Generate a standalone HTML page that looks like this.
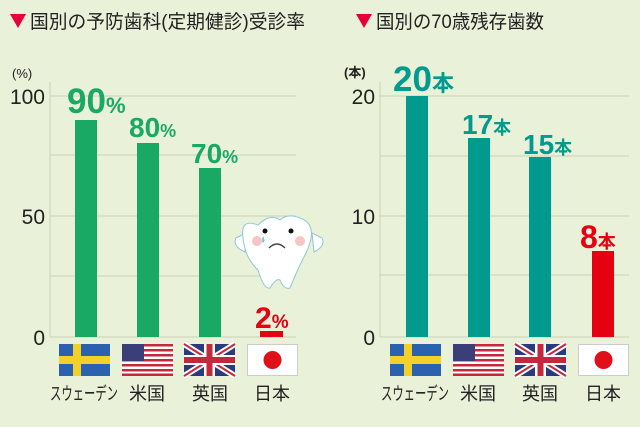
<!DOCTYPE html>
<html><head><meta charset="utf-8"><style>
html,body{margin:0;padding:0;background:#e9f1d9;}
svg{display:block}
text{font-family:"Liberation Sans","Noto Sans CJK JP",sans-serif;}
</style></head><body>
<svg width="640" height="427" viewBox="0 0 640 427" xmlns="http://www.w3.org/2000/svg">
<defs>
<g id="se"><rect width="51" height="32" fill="#2a62b0"/><rect x="14" width="8" height="32" fill="#f3d02a"/><rect y="12" width="51" height="8" fill="#f3d02a"/></g>
<g id="us"><rect width="51" height="32" fill="#fff"/>
<g fill="#c4283c"><rect y="0" width="51" height="2.5"/><rect y="5" width="51" height="2.5"/><rect y="10" width="51" height="2.5"/><rect y="15" width="51" height="2.5"/><rect y="20" width="51" height="2.5"/><rect y="25" width="51" height="2.5"/><rect y="29.5" width="51" height="2.5"/></g>
<rect width="22" height="17" fill="#3a3f7a"/></g>
<g id="uk"><rect width="51" height="32" fill="#2b3a7e"/>
<path d="M0 0L51 32M51 0L0 32" stroke="#fff" stroke-width="6"/><path d="M0 0L51 32M51 0L0 32" stroke="#c4283c" stroke-width="2"/>
<rect x="20" width="11" height="32" fill="#fff"/><rect y="11" width="51" height="10" fill="#fff"/>
<rect x="22.5" width="6" height="32" fill="#c4283c"/><rect y="13" width="51" height="6" fill="#c4283c"/></g>
<g id="jp"><rect x="0.5" y="0.5" width="50" height="31" fill="#fff" stroke="#ccc"/><circle cx="25.5" cy="16" r="9" fill="#e0101a"/></g>
</defs>
<path d="M10 28 L26 28 L18 42 Z" transform="translate(0,-14)" fill="#e5003c"/>
<text x="30" y="28" font-size="19" fill="#222" textLength="275" lengthAdjust="spacingAndGlyphs">国別の予防歯科(定期健診)受診率</text>
<path d="M356 14 L372 14 L364 28 Z" fill="#e5003c"/>
<text x="376" y="28" font-size="19" fill="#222" textLength="168" lengthAdjust="spacingAndGlyphs">国別の70歳残存歯数</text>
<text x="12" y="78" font-size="13" fill="#222">(%)</text>
<g stroke="#c9d2b4" stroke-width="1">
<line x1="50" y1="96" x2="296" y2="96"/><line x1="50" y1="155" x2="296" y2="155"/><line x1="50" y1="216" x2="296" y2="216"/><line x1="50" y1="276" x2="296" y2="276"/><line x1="50" y1="337" x2="296" y2="337"/>
<line x1="50" y1="82" x2="50" y2="337"/>
<line x1="380" y1="96" x2="629" y2="96"/><line x1="380" y1="156" x2="629" y2="156"/><line x1="380" y1="216" x2="629" y2="216"/><line x1="380" y1="275" x2="629" y2="275"/><line x1="380" y1="337" x2="629" y2="337"/>
<line x1="380" y1="82" x2="380" y2="337"/>
</g>
<g font-size="21" fill="#222" text-anchor="end">
<text x="45" y="104">100</text><text x="45" y="224">50</text><text x="45" y="345">0</text>
<text x="375" y="104">20</text><text x="375" y="224">10</text><text x="375" y="345">0</text>
</g>
<g fill="#1aa865">
<rect x="75" y="120" width="22" height="217"/><rect x="137" y="143" width="22" height="194"/><rect x="199" y="168" width="22" height="169"/>
</g>
<rect x="260" y="331" width="23" height="6" fill="#e50012"/>
<g font-weight="bold" fill="#1aa865">
<text x="67" y="113" font-size="35">90<tspan font-size="22">%</tspan></text>
<text x="129" y="137" font-size="28">80<tspan font-size="18">%</tspan></text>
<text x="191" y="163" font-size="28">70<tspan font-size="18">%</tspan></text>
</g>
<text x="255" y="328" font-size="30" font-weight="bold" fill="#e50012">2<tspan font-size="19">%</tspan></text>
<g stroke="#8fc7d8" stroke-width="1" fill="#fff">
<path d="M245 252 Q232 246 236 238 L246 233 Z"/><path d="M314 252 Q326 246 322 238 L312 233 Z"/>
<path d="M258 225 Q240 218 243 238 Q245 258 258 270 Q264 290 270 288 Q276 278 280 280 Q284 290 290 288 Q298 268 305 255 Q320 225 300 218 Q288 213 280 220 Q270 213 258 225 Z"/>
</g>
<circle cx="265" cy="231" r="2.5" fill="#111"/><circle cx="291" cy="231" r="2.5" fill="#111"/>
<circle cx="257" cy="241" r="5" fill="#f4b7b7" opacity="0.8"/><circle cx="300" cy="241" r="5" fill="#f4b7b7" opacity="0.8"/>
<path d="M269 248 Q277 240 285 248" stroke="#444" stroke-width="1.3" fill="none"/>
<path d="M263 236 Q261 241 263 243 Q266 241 263 236Z" fill="#7ec4e6"/>
<g fill="#009b8e">
<rect x="406" y="96" width="22" height="241"/><rect x="468" y="138" width="22" height="199"/><rect x="529" y="157" width="22" height="180"/>
</g>
<rect x="592" y="251" width="22" height="86" fill="#e50012"/>
<g font-weight="bold" fill="#009b8e">
<text x="393" y="91" font-size="35">20<tspan font-size="22">本</tspan></text>
<text x="462" y="134" font-size="28">17<tspan font-size="18">本</tspan></text>
<text x="523" y="154" font-size="28">15<tspan font-size="18">本</tspan></text>
</g>
<text x="580" y="248" font-size="32" font-weight="bold" fill="#e50012">8<tspan font-size="18">本</tspan></text>
<text x="344" y="77" font-size="13" font-weight="bold" fill="#222">(本)</text>
<use href="#se" x="59" y="344"/><use href="#us" x="122" y="344"/><use href="#uk" x="184" y="344"/><use href="#jp" x="247" y="344"/>
<use href="#se" x="390" y="344"/><use href="#us" x="453" y="344"/><use href="#uk" x="515" y="344"/><use href="#jp" x="578" y="344"/>
<g font-size="18" fill="#222" text-anchor="middle">
<text x="84" y="400" textLength="68" lengthAdjust="spacingAndGlyphs">スウェーデン</text><text x="147" y="400">米国</text><text x="210" y="400">英国</text><text x="272" y="400">日本</text>
<text x="415" y="400" textLength="68" lengthAdjust="spacingAndGlyphs">スウェーデン</text><text x="478" y="400">米国</text><text x="540" y="400">英国</text><text x="603" y="400">日本</text>
</g>
</svg>
</body></html>
